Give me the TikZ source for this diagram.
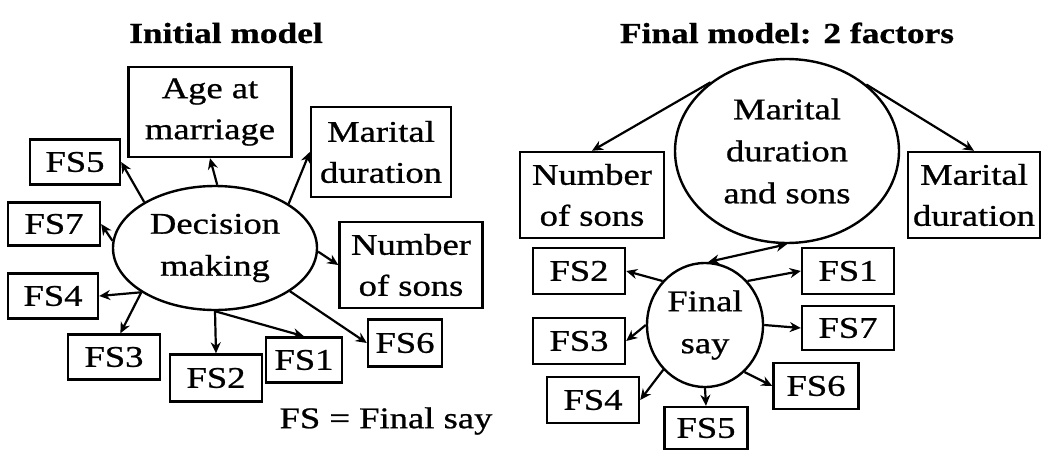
\documentclass[tikz,border=0pt]{standalone}
\usepackage{fontspec}
\setmainfont[FakeStretch=1.22,FakeBold=0.8]{Liberation Serif}
\usetikzlibrary{shapes.geometric,arrows.meta}
\tikzset{
	box/.style={draw, line width=2.4pt, inner sep=2pt, align=center, minimum width=#1, minimum height=46pt, font=\fontsize{30}{41}\selectfont},
	tallbox/.style={box=#1, minimum height=88pt},
	factor/.style={draw, ellipse, line width=2.4pt, inner sep=0pt, align=center, font=\fontsize{30}{42}\selectfont},
	arr/.style={-{Stealth[length=11pt,width=10pt]}, line width=2.2pt},
	title/.style={font=\fontsize{29}{34}\selectfont\bfseries}
}
\begin{document}
\begin{tikzpicture}[x=1pt,y=-1pt]
	\useasboundingbox (0,0) rectangle (1043,450);
	\node[title] (t1) at (226,33) {Initial model};
	\node[title] (t2) at (787,33) {Final model: 2 factors};

	\node[factor, minimum width=204pt, minimum height=124pt] (dm) at (215,248) {Decision\\making};
	\node[tallbox=163pt, minimum height=90pt] (age) at (210,112) {Age at\\marriage};
	\node[tallbox=140pt, minimum height=90pt] (mdur) at (381,152) {Marital\\duration};
	\node[tallbox=143pt, minimum height=86pt] (nsons) at (411,265) {Number\\of sons};
	\node[box=90pt, minimum height=45pt] (fs5) at (75,162) {FS5};
	\node[box=92pt, minimum height=43pt] (fs7) at (54,224) {FS7};
	\node[box=90pt, minimum height=45pt] (fs4) at (53,296) {FS4};
	\node[box=92pt, minimum height=45pt] (fs3) at (114,357) {FS3};
	\node[box=92pt, minimum height=47pt] (fs2) at (216,378) {FS2};
	\node[box=76pt, minimum height=45pt] (fs1) at (304,360) {FS1};
	\node[box=74pt, minimum height=47pt] (fs6) at (405,343) {FS6};
	\node[font=\fontsize{30}{41}\selectfont] (key) at (386,421) {FS = Final say};

	\draw[arr] (dm.88) -- (age.south);
	\draw[arr] (dm.31.5) -- (mdur.west);
	\draw[arr] (dm.147) -- (fs5.east);
	\draw[arr] (dm.176) -- (fs7.east);
	\draw[arr] (dm.211) -- (fs4.east);
	\draw[arr] (dm.211) -- (fs3.75);
	\draw[arr] (dm.270) -- (fs2.north);
	\draw[arr] (dm.270) -- (fs1.north);
	\draw[arr] (dm.330) -- (fs6.west);
	\draw[arr] (dm.358) -- (nsons.west);

	\node[factor, minimum width=224pt, minimum height=184pt] (mds) at (787,151) {Marital\\duration\\and sons};
	\node[tallbox=144pt, minimum height=86pt] (rnsons) at (592,195) {Number\\of sons};
	\node[tallbox=132pt, minimum height=86pt] (rmdur) at (974,195) {Marital\\duration};
	\node[factor, minimum width=116pt, minimum height=124pt] (say) at (705,325) {Final\\say};
	\node[box=92pt] (rfs2) at (579,271) {FS2};
	\node[box=92pt] (rfs3) at (579,341) {FS3};
	\node[box=92pt] (rfs4) at (593,400) {FS4};
	\node[box=83pt, minimum height=42pt] (rfs5) at (706,428) {FS5};
	\node[box=85pt] (rfs6) at (816,386) {FS6};
	\node[box=92pt, minimum height=44pt] (rfs7) at (848,328) {FS7};
	\node[box=92pt] (rfs1) at (848,271) {FS1};

	\draw[arr] (mds.138.6) -- (rnsons.north);
	\draw[arr] (mds.40.4) -- (rmdur.north);
	\draw[arr, {Stealth[length=11pt,width=10pt]}-{Stealth[length=11pt,width=10pt]}] (say.87) -- (mds.south);
	\draw[arr] (say.134) -- (rfs2.east);
	\draw[arr] (say.46) -- (rfs1.west);
	\draw[arr] (say.east) -- (rfs7.west);
	\draw[arr] (say.west) -- (rfs3.east);
	\draw[arr] (say.227) -- (rfs4.east);
	\draw[arr] (say.south) -- (rfs5.north);
	\draw[arr] (say.310) -- (rfs6.west);
\end{tikzpicture}
\end{document}
